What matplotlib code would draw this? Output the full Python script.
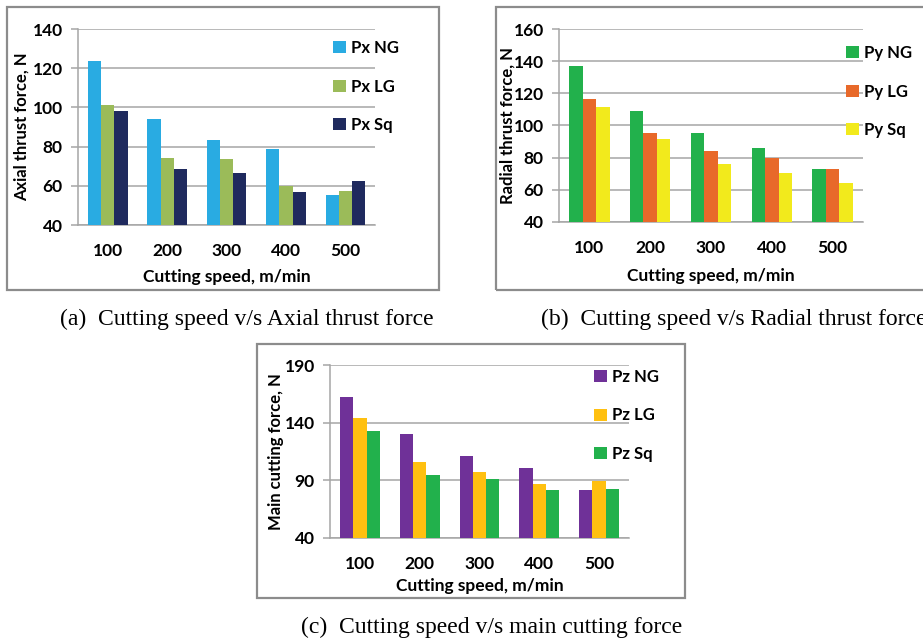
import numpy as np
import matplotlib
matplotlib.use('Agg')
import matplotlib.pyplot as plt
from matplotlib.patches import Rectangle

W, H = 923, 639

speeds = ['100', '200', '300', '400', '500']

# axial thrust force (N)
px_ng = [123.5, 94, 83.5, 79, 55.3]
px_lg = [101, 74.4, 73.7, 60, 57.5]
px_sq = [98.2, 68.6, 66.4, 57, 62.3]

# radial thrust force (N)
py_ng = [137, 108.8, 95.3, 86.3, 73.1]
py_lg = [116.4, 95.3, 84.1, 80.1, 73.1]
py_sq = [111.5, 91.8, 76.2, 70.5, 64.1]

# main cutting force (N)
pz_ng = [162.5, 130.4, 111, 101.1, 81.4]
pz_lg = [144.3, 106, 97, 86.8, 89.5]
pz_sq = [132.7, 94.4, 91.5, 81.4, 82.6]

plt.rcParams['font.family'] = ['Lato', 'DejaVu Sans']
plt.rcParams['font.weight'] = 'bold'

fig = plt.figure(figsize=(W / 100, H / 100), dpi=100)


def px_rect(l, t, r, b):
    return [l / W, 1 - b / H, (r - l) / W, (b - t) / H]


def frame(l, t, r, b):
    fig.patches.append(Rectangle((l / W, 1 - b / H), (r - l) / W, (b - t) / H,
                                 transform=fig.transFigure, fill=False,
                                 edgecolor='#8c8c8c', linewidth=1.6, zorder=0))


def panel(box, names, series, colors, ylim, yticks, ylabel, leg_xy,
          ylab_x, xlab_y):
    ax = fig.add_axes(px_rect(*box))
    x = np.arange(1, len(speeds) + 1)
    w = 1 / 4.5
    for i, (vals, c, n) in enumerate(zip(series, colors, names)):
        ax.bar(x + (i - 1) * w, np.array(vals) - ylim[0], w, bottom=ylim[0],
               color=c, label=n, zorder=3)
    ax.set_xlim(0.5, len(speeds) + 0.5)
    ax.set_ylim(*ylim)
    ax.set_yticks(yticks)
    ax.set_xticks(x)
    ax.set_xticklabels(speeds)
    ax.yaxis.grid(True, color='#a6a6a6', linewidth=1.1, zorder=0)
    for s in ['top', 'right']:
        ax.spines[s].set_visible(False)
    for s in ['left', 'bottom']:
        ax.spines[s].set_color('#a6a6a6')
        ax.spines[s].set_linewidth(1.1)
    ax.tick_params(axis='y', length=5, color='#a6a6a6', width=1.1,
                   labelsize=12.5, pad=6)
    ax.tick_params(axis='x', length=0, labelsize=12.5, pad=13)
    ax.set_xlabel('Cutting speed, m/min', fontsize=12.5, fontweight='bold')
    ax.set_ylabel(ylabel, fontsize=12, fontweight='bold')
    l, t, r, b = box
    ax.xaxis.set_label_coords(0.5, (b - xlab_y) / (b - t))
    ax.yaxis.set_label_coords((ylab_x - l) / (r - l), 0.5)
    ax.xaxis.label.set_va('center')
    ax.yaxis.label.set_va('center')
    lx, ly = leg_xy
    ax.legend(loc='upper left',
              bbox_to_anchor=((lx - l) / (r - l), (b - ly) / (b - t)),
              frameon=False, fontsize=12, handlelength=0.75,
              handleheight=0.75, handletextpad=0.35, labelspacing=1.35,
              borderpad=0, borderaxespad=0)
    return ax


# (a) axial
frame(7, 7, 439, 290)
panel((78, 29, 375, 225), ['Px NG', 'Px LG', 'Px Sq'],
      [px_ng, px_lg, px_sq], ['#29abe2', '#9bbb59', '#1f2a5e'],
      (40, 140), [40, 60, 80, 100, 120, 140], 'Axial thrust force, N',
      (333, 40), 22, 277)

# (b) radial
frame(496, 7, 930, 290)
panel((559, 29, 863, 222), ['Py NG', 'Py LG', 'Py Sq'],
      [py_ng, py_lg, py_sq], ['#22b14c', '#e8692a', '#f2ea1c'],
      (40, 160), [40, 60, 80, 100, 120, 140, 160], 'Radial thrust force, N',
      (846, 45), 508, 276)

# (c) main cutting
frame(257, 344, 685, 598)
panel((330, 365, 629, 538), ['Pz NG', 'Pz LG', 'Pz Sq'],
      [pz_ng, pz_lg, pz_sq], ['#6f3198', '#ffc010', '#22b14c'],
      (40, 190), [40, 90, 140, 190], 'Main cutting force, N',
      (594, 369), 276, 586)

cap = dict(family='Liberation Serif', fontweight='normal', fontsize=17,
           ha='left', va='center')
fig.text(60 / W, 1 - 319 / H, '(a)  Cutting speed v/s Axial thrust force', **cap)
fig.text(541 / W, 1 - 319 / H, '(b)  Cutting speed v/s Radial thrust force', **cap)
fig.text(301 / W, 1 - 627 / H, '(c)  Cutting speed v/s main cutting force', **cap)

fig.savefig('out.png', dpi=100)
